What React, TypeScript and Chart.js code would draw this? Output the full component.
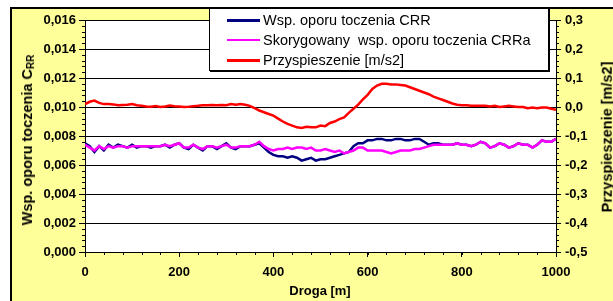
import React, { useEffect, useRef } from "react";
import { Chart, registerables } from "chart.js";

Chart.register(...registerables);

const DISTANCE = [
  0, 10, 20, 30, 40, 50, 60, 70, 80, 90,
  100, 110, 120, 130, 140, 150, 160, 170, 180, 190,
  200, 210, 220, 230, 240, 250, 260, 270, 280, 290,
  300, 310, 320, 330, 340, 350, 360, 370, 380, 390,
  400, 410, 420, 430, 440, 450, 460, 470, 480, 490,
  500, 510, 520, 530, 540, 550, 560, 570, 580, 590,
  600, 610, 620, 630, 640, 650, 660, 670, 680, 690,
  700, 710, 720, 730, 740, 750, 760, 770, 780, 790,
  800, 810, 820, 830, 840, 850, 860, 870, 880, 890,
  900, 910, 920, 930, 940, 950, 960, 970, 980, 990,
  1000,
];

const CRR = [
  0.0075, 0.0073, 0.0069, 0.0073, 0.007, 0.0074, 0.0072, 0.0074, 0.0073, 0.0072,
  0.0074, 0.0072, 0.0073, 0.0073, 0.0072, 0.0073, 0.0073, 0.0074, 0.0072, 0.0074,
  0.0075, 0.0072, 0.0071, 0.0074, 0.0072, 0.007, 0.0073, 0.0073, 0.0071, 0.0073,
  0.0075, 0.0072, 0.0071, 0.0073, 0.0073, 0.0073, 0.0074, 0.0075, 0.0072, 0.0069,
  0.0067, 0.0066, 0.0066, 0.0065, 0.0066, 0.0065, 0.0063, 0.0064, 0.0065, 0.0063,
  0.0064, 0.0064, 0.0065, 0.0066, 0.0067, 0.0068, 0.0069, 0.0073, 0.0075, 0.0075,
  0.0077, 0.0077, 0.0078, 0.0078, 0.0077, 0.0077, 0.0078, 0.0078, 0.0077, 0.0077,
  0.0078, 0.0078, 0.0076, 0.0074, 0.0075, 0.0075, 0.0074, 0.0074, 0.0074, 0.0075,
  0.0074, 0.0074, 0.0073, 0.0074, 0.0076, 0.0075, 0.0072, 0.0073, 0.0075, 0.0074,
  0.0072, 0.0073, 0.0075, 0.0074, 0.0074, 0.0072, 0.0074, 0.0077, 0.0076, 0.0076,
  0.0078,
];

const CRRA = [
  0.0074, 0.0072, 0.007, 0.0073, 0.0071, 0.0073, 0.0072, 0.0073, 0.0073, 0.0072,
  0.0073, 0.0073, 0.0073, 0.0073, 0.0073, 0.0073, 0.0073, 0.0074, 0.0073, 0.0074,
  0.0075, 0.0072, 0.0072, 0.0074, 0.0072, 0.0071, 0.0073, 0.0073, 0.0072, 0.0073,
  0.0074, 0.0072, 0.0072, 0.0073, 0.0073, 0.0073, 0.0074, 0.0076, 0.0073, 0.0071,
  0.007, 0.0071, 0.0071, 0.0072, 0.0071, 0.0072, 0.0072, 0.0071, 0.0072, 0.007,
  0.007, 0.0071, 0.007, 0.0069, 0.007, 0.0068, 0.0069, 0.007, 0.0072, 0.0072,
  0.007, 0.007, 0.007, 0.007, 0.0069, 0.0068, 0.0069, 0.007, 0.007, 0.007,
  0.0071, 0.0071, 0.0072, 0.0073, 0.0074, 0.0074, 0.0074, 0.0074, 0.0074, 0.0075,
  0.0074, 0.0074, 0.0073, 0.0074, 0.0076, 0.0075, 0.0072, 0.0073, 0.0075, 0.0074,
  0.0072, 0.0073, 0.0075, 0.0074, 0.0074, 0.0072, 0.0074, 0.0077, 0.0076, 0.0076,
  0.0078,
];

const ACCEL = [
  0.01, 0.018, 0.022, 0.014, 0.01, 0.01, 0.009, 0.006, 0.007, 0.008,
  0.01, 0.006, 0.004, 0.002, 0.001, 0.003, 0.0, 0.002, 0.005, 0.003,
  0.002, 0.0, 0.001, 0.003, 0.004, 0.006, 0.006, 0.007, 0.006, 0.007,
  0.006, 0.01, 0.008, 0.01, 0.008, 0.004, -0.004, -0.012, -0.018, -0.024,
  -0.03, -0.04, -0.05, -0.058, -0.064, -0.07, -0.072, -0.068, -0.07, -0.07,
  -0.064, -0.066, -0.055, -0.05, -0.042, -0.036, -0.02, -0.006, 0.008, 0.026,
  0.042, 0.062, 0.074, 0.08, 0.08, 0.078, 0.078, 0.076, 0.074, 0.068,
  0.062, 0.056, 0.05, 0.044, 0.036, 0.03, 0.024, 0.018, 0.012, 0.008,
  0.006, 0.006, 0.004, 0.004, 0.004, 0.004, 0.002, 0.004, 0.0, 0.002,
  0.004, 0.002, 0.0, 0.0, -0.004, -0.002, -0.004, -0.002, -0.002, -0.006,
  -0.01,
];

const X_TICK_STEP = 200;
const LEFT_TICK_STEP = 0.002;
const RIGHT_TICK_STEP = 0.1;

const LEGEND_ITEMS = [
  { label: "Wsp. oporu toczenia CRR", color: "#000080", width: 3 },
  { label: "Skorygowany\u00a0 wsp. oporu toczenia CRRa", color: "#FF00FF", width: 1.5 },
  { label: "Przyspieszenie [m/s2]", color: "#FF0000", width: 3 },
];

const FONT = "'Liberation Sans', Arial, sans-serif";

const pts = (ys: number[]) => DISTANCE.map((x, i) => ({ x, y: ys[i] }));

const bgPlugin = {
  id: "bgPlugin",
  beforeDraw(chart: any) {
    const { ctx, chartArea } = chart;
    ctx.save();
    ctx.fillStyle = "#ffffff";
    ctx.fillRect(chartArea.left, chartArea.top, chartArea.right - chartArea.left, chartArea.bottom - chartArea.top);
    ctx.restore();
  },
  afterDraw(chart: any) {
    const { ctx, chartArea } = chart;
    const sx = chart.scales.x;
    const sl = chart.scales.y;
    const sr = chart.scales.y1;
    ctx.save();
    ctx.strokeStyle = "#000";
    ctx.lineWidth = 1;
    ctx.beginPath();
    for (let v = 0; v <= 1000 + 1e-9; v += 40) {
      const px = Math.round(sx.getPixelForValue(v)) + 0.5;
      ctx.moveTo(px, chartArea.bottom);
      ctx.lineTo(px, chartArea.bottom + 3);
    }
    for (let v = 0; v <= 0.016 + 1e-9; v += 0.0004) {
      const py = Math.round(sl.getPixelForValue(v)) + 0.5;
      ctx.moveTo(chartArea.left - 3, py);
      ctx.lineTo(chartArea.left, py);
    }
    for (let v = -0.5; v <= 0.3 + 1e-9; v += 0.02) {
      const py = Math.round(sr.getPixelForValue(v)) + 0.5;
      ctx.moveTo(chartArea.right, py);
      ctx.lineTo(chartArea.right + 3, py);
    }
    ctx.stroke();
    ctx.restore();
  },
};

export default function App() {
  const ref = useRef<HTMLCanvasElement>(null);

  useEffect(() => {
    if (!ref.current) return;
    const tickFont = { family: FONT, size: 13, weight: "bold" as const };
    const chart = new Chart(ref.current, {
      type: "line",
      data: {
        datasets: [
          {
            label: "Wsp. oporu toczenia CRR",
            data: pts(CRR),
            borderColor: "#000080",
            borderWidth: 2.5,
            pointRadius: 0,
            yAxisID: "y",
            order: 1,
          },
          {
            label: "Skorygowany wsp. oporu toczenia CRRa",
            data: pts(CRRA),
            borderColor: "#FF00FF",
            borderWidth: 2.5,
            pointRadius: 0,
            yAxisID: "y",
            order: 0,
          },
          {
            label: "Przyspieszenie [m/s2]",
            data: pts(ACCEL),
            borderColor: "#FF0000",
            borderWidth: 2.5,
            pointRadius: 0,
            yAxisID: "y1",
            order: 2,
          },
        ],
      },
      options: {
        responsive: false,
        animation: false,
        devicePixelRatio: 1,
        layout: { padding: { top: 20, left: 0, right: 0, bottom: 0 } },
        plugins: { legend: { display: false }, tooltip: { enabled: false } },
        elements: { line: { tension: 0 } },
        scales: {
          x: {
            type: "linear",
            min: 0,
            max: 1000,
            afterFit: (s: any) => { s.height = 49; },
            ticks: {
              stepSize: X_TICK_STEP,
              color: "#000",
              font: tickFont,
              padding: 8,
              maxRotation: 0,
              callback: (v: any) => String(v),
            },
            grid: { drawOnChartArea: false, drawTicks: true, tickLength: 5, tickColor: "#000" },
            border: { color: "#000", width: 1 },
          },
          y: {
            type: "linear",
            position: "left",
            min: 0,
            max: 0.016,
            afterFit: (s: any) => { s.width = 85; },
            ticks: {
              stepSize: LEFT_TICK_STEP,
              color: "#000",
              font: tickFont,
              padding: 3,
              callback: (v: any) => Number(v).toFixed(3).replace(".", ","),
            },
            grid: { color: "#000", lineWidth: 1, drawTicks: true, tickLength: 6, tickColor: "#000" },
            border: { color: "#000", width: 1 },
          },
          y1: {
            type: "linear",
            position: "right",
            min: -0.5,
            max: 0.3,
            afterFit: (s: any) => { s.width = 57; },
            ticks: {
              stepSize: RIGHT_TICK_STEP,
              color: "#000",
              font: tickFont,
              padding: 4,
              callback: (v: any) => {
                const n = Number(v);
                if (Math.abs(n) < 1e-9) return "0,0";
                return n.toFixed(1).replace(".", ",");
              },
            },
            grid: { drawOnChartArea: false, drawTicks: true, tickLength: 5, tickColor: "#000" },
            border: { color: "#000", width: 1 },
          },
        },
      },
      plugins: [bgPlugin],
    } as any);
    return () => chart.destroy();
  }, []);

  const titleStyle: React.CSSProperties = {
    position: "absolute",
    fontFamily: FONT,
    fontWeight: "bold",
    fontSize: 14.5,
    color: "#000",
    whiteSpace: "nowrap",
    lineHeight: 1,
  };

  return (
    <div style={{ position: "fixed", left: 0, top: 0, width: 613, height: 301, background: "#fff", overflow: "hidden" }}>
      <div
        style={{
          position: "absolute",
          left: 10,
          top: 7,
          width: 700,
          height: 400,
          background: "#FFFF99",
          borderLeft: "2px solid #000",
          borderTop: "2px solid #000",
        }}
      />
      <canvas ref={ref} width={613} height={301} style={{ position: "absolute", left: 0, top: 0, width: 613, height: 301 }} />
      <div
        style={{
          ...titleStyle,
          left: 28,
          top: 140,
          transform: "translate(-50%, -50%) rotate(-90deg)",
        }}
      >
        Wsp. oporu toczenia C<sub style={{ fontSize: 10, verticalAlign: "-2px" }}>RR</sub>
      </div>
      <div
        style={{
          ...titleStyle,
          left: 607,
          top: 137,
          transform: "translate(-50%, -50%) rotate(-90deg)",
        }}
      >
        Przyspieszenie [m/s2]
      </div>
      <div style={{ ...titleStyle, fontSize: 13, left: 320, top: 290, transform: "translate(-50%, -50%)" }}>Droga [m]</div>
      <div
        style={{
          position: "absolute",
          left: 209,
          top: 8,
          width: 338,
          height: 61,
          background: "#fff",
          border: "1px solid #000",
          boxShadow: "1px 1px 0 #000",
        }}
      >
        {LEGEND_ITEMS.map((it, i) => (
          <div key={i} style={{ position: "absolute", left: 0, top: 11 + i * 20 - 9, height: 18, width: 338 }}>
            <div
              style={{
                position: "absolute",
                left: 17,
                top: 9 - it.width / 2,
                width: 33,
                height: it.width,
                background: it.color,
              }}
            />
            <div
              style={{
                position: "absolute",
                left: 53,
                top: 0,
                height: 18,
                lineHeight: "18px",
                fontFamily: FONT,
                fontSize: 14.5,
                color: "#000",
                whiteSpace: "nowrap",
              }}
            >
              {it.label}
            </div>
          </div>
        ))}
      </div>
    </div>
  );
}
